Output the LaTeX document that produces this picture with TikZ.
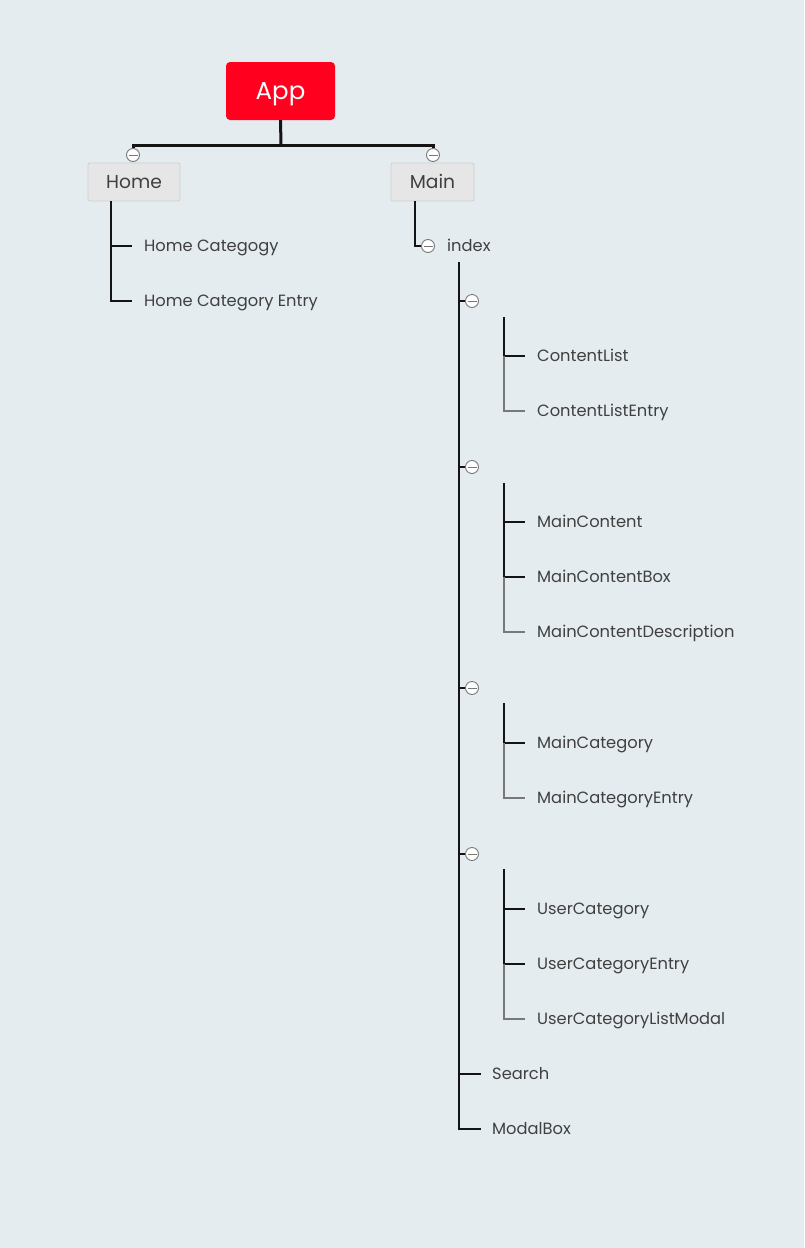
\documentclass[tikz,border=0pt]{standalone}
\usepackage{fontspec}
\setmainfont{Poppins}
\begin{document}
\definecolor{bgc}{RGB}{228,236,240}
\definecolor{rootred}{RGB}{255,0,30}
\definecolor{boxfill}{RGB}{230,230,230}
\definecolor{boxline}{RGB}{208,208,208}
\definecolor{txt}{RGB}{64,64,64}
\definecolor{linedark}{RGB}{20,20,20}
\definecolor{linelight}{RGB}{120,120,120}
\begin{tikzpicture}[x=1pt,y=-1pt,
  root/.style={draw=none,fill=rootred,rounded corners=4pt,minimum width=109pt,minimum height=58pt,
    text=white,font=\fontsize{24.5}{28}\selectfont,text height=17pt,text depth=0pt},
  branch/.style={draw=boxline,fill=boxfill,rounded corners=2pt,minimum height=38pt,
    text=txt,font=\fontsize{18.7}{22}\selectfont,line width=0.8pt,text height=13pt,text depth=0pt},
  leaf/.style={anchor=west,inner xsep=12pt,inner ysep=2pt,text=txt,font=\fontsize{16.3}{19}\selectfont,
    text height=11.4pt,text depth=0pt},
  fold/.style={circle,draw=linelight,fill=white,minimum size=13pt,inner sep=0pt,line width=0.9pt,
    path picture={\draw[linelight,line width=0.9pt] ([xshift=-4.5pt]path picture bounding box.center) -- ([xshift=4.5pt]path picture bounding box.center);}},
  heavy/.style={draw=linedark,line width=3pt},
  stem/.style={draw=linedark,line width=1.6pt},
  tick/.style={draw=linedark,line width=1.2pt},
  soft/.style={draw=linelight,line width=1.2pt},
]
% background
\fill[bgc] (0,0) rectangle (804,1248);
\useasboundingbox (0,0) rectangle (804,1248);

% root and first level
\node[root] (app) at (280.5,91) {App};
\node[branch,minimum width=92pt] (home) at (134,182) {Home};
\node[branch,minimum width=83pt] (main) at (432.5,182) {Main};
\node[fold] (fhome) at (133,155) {};
\node[fold] (fmain) at (433,155) {};
\coordinate (split) at (281,145);
\draw[heavy] (app.south) -- (split);
\draw[heavy,line cap=butt] (fhome.north) |- (split) -| (fmain.north);

% Home children
\node[leaf] (hc) at (132,246) {Home Categogy};
\node[leaf] (hce) at (132,301) {Home Category Entry};
\coordinate (homestem) at (111,201);
\draw[stem] (homestem) |- (hc.west);
\draw[stem] (homestem) |- (hce.west);

% Main -> index
\node[fold] (findex) at (428,246) {};
\node[leaf,inner xsep=6pt] (index) at (441,246) {index};
\coordinate (mainstem) at (415,201);
\draw[stem] (mainstem) |- (findex.west);

% index trunk
\coordinate (trunk) at (459,262);
\node[fold] (f1) at (472,301) {};
\node[fold] (f2) at (472,467) {};
\node[fold] (f3) at (472,688) {};
\node[fold] (f4) at (472,854) {};
\node[leaf,inner xsep=11pt] (search) at (481,1074) {Search};
\node[leaf,inner xsep=11pt] (modal) at (481,1129) {ModalBox};
\draw[stem] (trunk) |- (modal.west);
\draw[tick] (trunk |- f1) -- (f1.west);
\draw[tick] (trunk |- f2) -- (f2.west);
\draw[tick] (trunk |- f3) -- (f3.west);
\draw[tick] (trunk |- f4) -- (f4.west);
\draw[tick] (trunk |- search) -- (search.west);

% group 1
\coordinate (g1) at (504,317);
\node[leaf] (cl) at (525,356) {ContentList};
\node[leaf] (cle) at (525,411) {ContentListEntry};
\draw[stem] (g1) |- (cl.west);
\draw[soft] (g1 |- cl.west) |- (cle.west);

% group 2
\coordinate (g2) at (504,483);
\node[leaf] (mc) at (525,522) {MainContent};
\node[leaf] (mcb) at (525,577) {MainContentBox};
\node[leaf] (mcd) at (525,632) {MainContentDescription};
\draw[stem] (g2) |- (mc.west);
\draw[stem] (g2 |- mc.west) |- (mcb.west);
\draw[soft] (g2 |- mcb.west) |- (mcd.west);

% group 3
\coordinate (g3) at (504,703);
\node[leaf] (mcat) at (525,743) {MainCategory};
\node[leaf] (mcate) at (525,798) {MainCategoryEntry};
\draw[stem] (g3) |- (mcat.west);
\draw[soft] (g3 |- mcat.west) |- (mcate.west);

% group 4
\coordinate (g4) at (504,869);
\node[leaf] (uc) at (525,909) {UserCategory};
\node[leaf] (uce) at (525,964) {UserCategoryEntry};
\node[leaf] (ucl) at (525,1019) {UserCategoryListModal};
\draw[stem] (g4) |- (uc.west);
\draw[stem] (g4 |- uc.west) |- (uce.west);
\draw[soft] (g4 |- uce.west) |- (ucl.west);
\end{tikzpicture}
\end{document}
